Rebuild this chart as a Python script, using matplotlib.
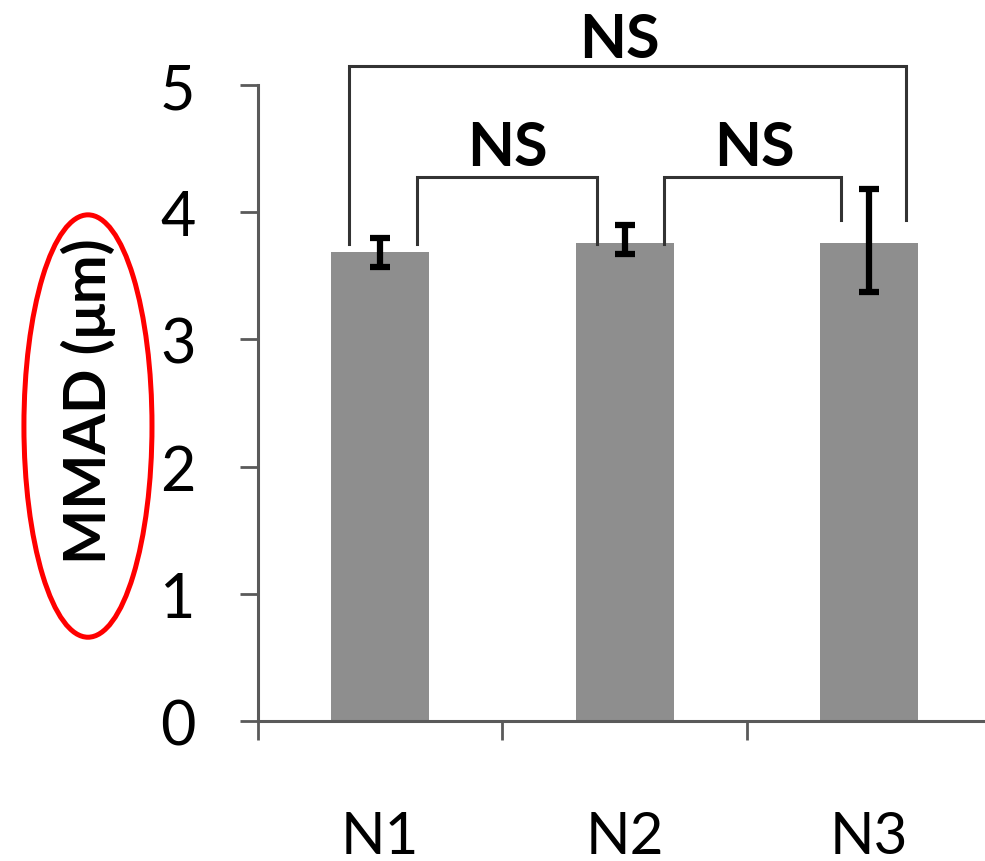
"""MMAD per nebulizer batch, with pairwise NS brackets."""
import matplotlib.pyplot as plt
from matplotlib.patches import Ellipse

# data
groups = ["N1", "N2", "N3"]
mmad = [3.69, 3.76, 3.76]
err_low = [0.12, 0.09, 0.39]
err_high = [0.11, 0.14, 0.42]
yticks = [0, 1, 2, 3, 4, 5]

# (left bar, right bar, left offset, right offset, leg bottoms, top, label x, label y)
brackets = [
    (0, 2, -0.13, 0.15, (3.75, 3.94), 5.15, 0.98, 5.22),
    (0, 1, 0.15, -0.115, (3.75, 3.75), 4.28, 0.52, 4.37),
    (1, 2, 0.16, -0.115, (3.75, 3.94), 4.28, 1.53, 4.37),
]

AXIS = "#5a5a5a"
BAR = "#8e8e8e"
FONT = "Lato"

fig = plt.figure(figsize=(9.85, 8.62), dpi=100)
ax = fig.add_axes([0.262, 0.1624, 0.737, 0.7378])

x = range(len(groups))
ax.bar(x, mmad, width=0.40, color=BAR, zorder=2)
ax.errorbar(x, mmad, yerr=[err_low, err_high], fmt="none", ecolor="black",
            elinewidth=4.5, capsize=7, capthick=4.5, zorder=3)

for i, j, dl, dr, (bl, br), top, tx, ty in brackets:
    xl, xr = i + dl, j + dr
    ax.plot([xl, xl, xr, xr], [bl, top, top, br], color="#333333", lw=2.2,
            clip_on=False, solid_joinstyle="miter", zorder=4)
    ax.text(tx, ty, "NS", ha="center", va="baseline", fontsize=44,
            fontweight="bold", family=FONT, clip_on=False)

ax.set_xlim(-0.5, 2.47)
ax.set_ylim(0, 5)
ax.set_yticks(yticks)
ax.set_xticks([-0.5, 0.5, 1.5])
ax.set_xticklabels([])
ax.set_xticks(list(x), minor=True)
ax.set_xticklabels(groups, minor=True)
ax.tick_params(axis="x", which="minor", length=0, pad=64, labelsize=42)
ax.tick_params(axis="x", which="major", direction="out", length=14,
               width=2, color=AXIS)
ax.tick_params(axis="y", direction="out", length=13, width=2, color=AXIS,
               pad=32, labelsize=44)
for lab in ax.get_xticklabels(minor=True) + ax.get_yticklabels():
    lab.set_family(FONT)

for side in ("top", "right"):
    ax.spines[side].set_visible(False)
for side in ("left", "bottom"):
    ax.spines[side].set_color(AXIS)
    ax.spines[side].set_linewidth(2.2)

ax.set_ylabel("MMAD (μm)", fontsize=42, fontweight="bold", family=FONT,
              va="center")
ax.yaxis.set_label_coords(-0.234, 0.505)

# red highlight ring around the axis title
fig.patches.append(Ellipse((0.0893, 0.5046), 0.13, 0.49, fill=False,
                           edgecolor="red", lw=3.6, transform=fig.transFigure))

fig.savefig("out.png", dpi=100)
